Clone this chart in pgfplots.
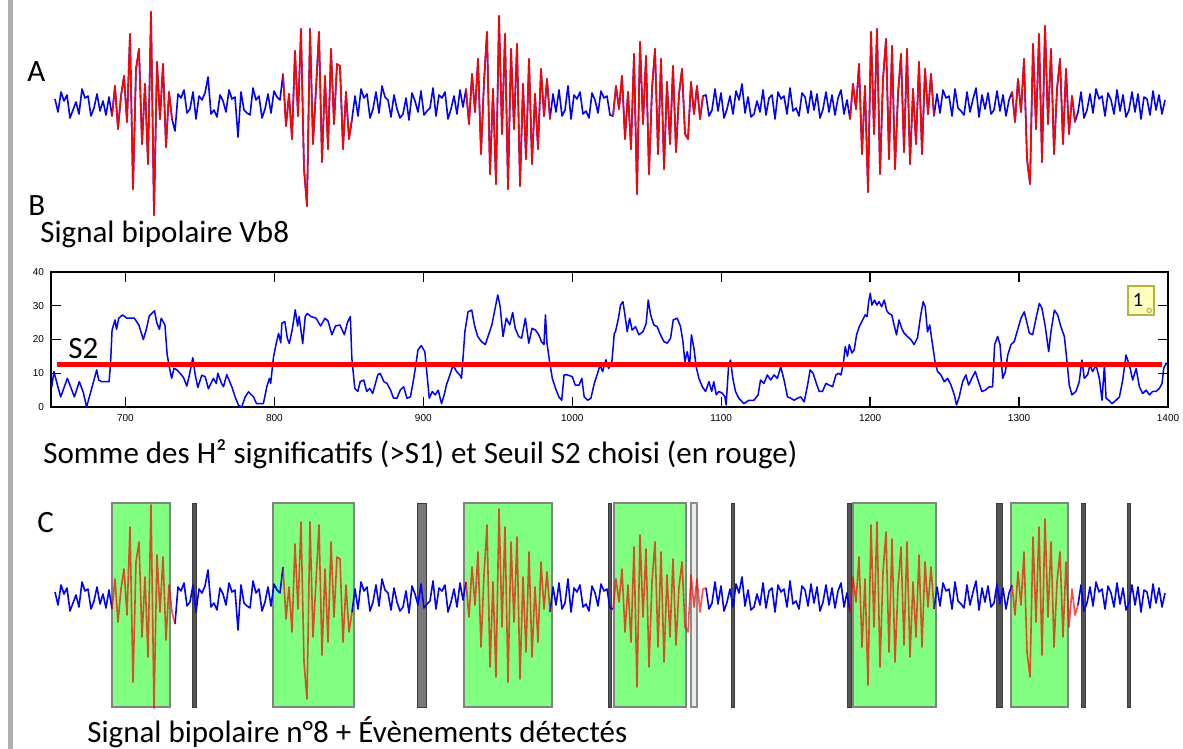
\documentclass[border=0pt]{standalone}
\usepackage{pgfplots}
\pgfplotsset{compat=1.18}
\usepackage{pgfplotstable}
\usepackage{fontspec}
\setmainfont{Carlito}
\setsansfont{Liberation Sans}

\definecolor{sigblue}{RGB}{0,0,255}
\definecolor{sigred}{RGB}{255,0,0}
\definecolor{boxgreen}{RGB}{128,255,128}
\definecolor{boxedge}{RGB}{130,130,130}
\definecolor{bardark}{RGB}{85,85,85}
\definecolor{bardarkedge}{RGB}{60,60,60}
\definecolor{barmid}{RGB}{120,120,120}
\definecolor{barlight}{RGB}{235,235,235}
\definecolor{barlightedge}{RGB}{140,140,140}
\definecolor{leftgray}{RGB}{175,175,175}
\definecolor{tagfill}{RGB}{255,255,190}
\definecolor{tagedge}{RGB}{180,180,60}

% signal samples (one every 3 px, starting at x = 55)
\pgfplotstableread[row sep=\\]{
y\\
5\\ -8\\ 12\\ 3\\ 9\\ -14\\ -6\\ 2\\ -10\\ 15\\ 6\\ 8\\ -12\\ -4\\ 10\\ -7\\ 3\\ -11\\ 7\\
-12\\ 18\\ -25\\ 8\\ 28\\ -18\\ 70\\ -85\\ 35\\ 55\\ -40\\ 20\\ -60\\ 92\\ -111\\ 42\\ -15\\ 40\\ -43\\ 12\\ -15\\
-27\\ 10\\ 6\\ 14\\ -9\\ -5\\ 12\\ -15\\ 8\\ 4\\ 11\\ 27\\ -10\\ -6\\ -13\\ 9\\ 3\\ -8\\ 14\\ 5\\ 7\\ -33\\ 12\\ -6\\ -9\\ -11\\ 16\\ 4\\ 8\\ -14\\ -5\\ 10\\ -9\\ 13\\ 7\\ 4\\
30\\ -22\\ 10\\ -35\\ 53\\ -12\\ 75\\ -65\\ -102\\ 75\\ -40\\ 15\\ 72\\ -58\\ 28\\ -45\\ 55\\ -20\\ 40\\ 38\\ -45\\ 12\\ -35\\ -15\\
8\\ -12\\ 15\\ 6\\ 10\\ -14\\ -5\\ 12\\ -9\\ 18\\ 7\\ 4\\ -13\\ 9\\ -5\\ -14\\ -10\\ 6\\ -16\\ 11\\ 3\\ -8\\ 13\\ -11\\ -7\\ -4\\ 16\\ -12\\ 9\\ 6\\ 12\\ -15\\ -5\\ 8\\ -10\\ 14\\ -3\\
15\\ -20\\ 30\\ -8\\ 45\\ -50\\ 22\\ 72\\ -70\\ 15\\ -80\\ 88\\ -30\\ 70\\ -85\\ 55\\ -25\\ 60\\ -82\\ 20\\ -55\\ 45\\ -60\\ 10\\ -45\\ 35\\ -12\\ 25\\ -15\\
10\\ -8\\ 14\\ -12\\ -6\\ 18\\ -15\\ 9\\ 5\\ 12\\ -10\\ -7\\ -14\\ 11\\ 4\\ -9\\ 13\\ 6\\ 8\\ -11\\
-12\\ 18\\ -5\\ 28\\ -35\\ 12\\ -45\\ 50\\ -90\\ 62\\ -20\\ 48\\ -70\\ 15\\ 55\\ -50\\ 45\\ -65\\ 22\\ -40\\ 38\\ -48\\ 10\\ 35\\ -30\\ -35\\ 22\\ -10\\ 18\\ -15\\ 8\\
9\\ -12\\ -6\\ 15\\ -7\\ 11\\ -14\\ -5\\ 8\\ -10\\ 13\\ 4\\ 20\\ -9\\ 7\\ -13\\ -10\\ 3\\ -8\\ 14\\ -11\\ 6\\ 9\\ -15\\ 12\\ 5\\ 8\\ -10\\ 16\\ -7\\ -4\\ -12\\ 11\\ 7\\ -9\\ 13\\ -6\\ 10\\ -14\\ -5\\ 12\\ -8\\ 9\\ -11\\ 6\\ 14\\ -10\\ 4\\
-15\\ 20\\ -5\\ 40\\ -50\\ 18\\ -88\\ 72\\ -30\\ 75\\ -70\\ 25\\ 65\\ -55\\ 58\\ -65\\ 10\\ 50\\ -48\\ 55\\ -60\\ 15\\ -40\\ 42\\ -50\\ 35\\ -10\\ 30\\ -12\\
10\\ -9\\ 14\\ 6\\ 8\\ -12\\ 15\\ -4\\ -7\\ -11\\ 12\\ -8\\ 5\\ 16\\ -13\\ 9\\ -5\\ 11\\ -10\\ -6\\ 13\\ -7\\ 9\\ -12\\ 4\\
12\\ -18\\ 25\\ -8\\ 45\\ -55\\ -80\\ 60\\ -25\\ 70\\ -58\\ 78\\ -20\\ 55\\ -50\\ 15\\ 45\\ -40\\ 35\\ -30\\ 8\\ -18\\
-8\\ 12\\ -14\\ -6\\ 10\\ -9\\ 15\\ 5\\ 8\\ -12\\ 11\\ 4\\ -10\\ 14\\ -7\\ 9\\ -13\\ -6\\ 12\\ -8\\ 10\\ -15\\ 7\\ 5\\ -11\\ 13\\ -6\\ 9\\ -10\\ 4\\
}\sig

\pgfplotsset{
  sigline/.style={line width=0.8pt, line join=round},
  redseg/.style={sigred, sigline, restrict x to domain=#1},
  bluseg/.style={sigblue, sigline, restrict x to domain=#1},
  evbox/.style={fill=boxgreen, draw=boxedge, line width=0.6pt},
  bardk/.style={fill=bardark, draw=bardarkedge, line width=0.5pt},
}

\begin{document}
\begin{tikzpicture}[x=1pt,y=1pt]
\fill[leftgray] (4,0) rectangle (6.5,-374.5);

% ---------------- Panel A
\begin{axis}[at={(0,0)}, anchor=north west, scale only axis,
  width=591.5pt, height=115pt, xmin=0, xmax=1183, ymin=-126, ymax=104,
  hide axis, clip=false]
\addplot[sigblue, sigline] table[x expr=\coordindex*3+55, y=y] {\sig};
\addplot[redseg={111.5:172.5}] table[x expr=\coordindex*3+55, y=y] {\sig};
\addplot[redseg={282.5:352.5}] table[x expr=\coordindex*3+55, y=y] {\sig};
\addplot[redseg={465.5:550.5}] table[x expr=\coordindex*3+55, y=y] {\sig};
\addplot[redseg={612.5:703.5}] table[x expr=\coordindex*3+55, y=y] {\sig};
\addplot[redseg={849.5:934.5}] table[x expr=\coordindex*3+55, y=y] {\sig};
\addplot[redseg={1011.5:1075.5}] table[x expr=\coordindex*3+55, y=y] {\sig};
\end{axis}

% ---------------- Panel B
\begin{axis}[at={(25.5pt,-136pt)}, anchor=north west, scale only axis,
  width=558.5pt, height=67.5pt, xmin=650, xmax=1400, ymin=0, ymax=40,
  xtick={700,800,...,1400}, ytick={0,10,20,30,40},
  tick align=inside, tick pos=both, ticklabel pos=left,
  major tick length=5pt,
  every tick/.style={black, line width=0.7pt},
  axis line style={line width=0.7pt},
  tick label style={font=\fontsize{5}{5}\sffamily},
  /pgf/number format/assume math mode=true,
  /pgf/number format/set thousands separator={},
  clip=false]
\addplot[sigblue, line width=0.75pt, line join=round] coordinates {
(650.5,6)(652,10.5)(654,7)(656.5,3)(661,8.5)(665.7,3)(669,7.5)(671.7,4.3)(673.9,0)(677,5)(680.7,11)(682,8)(684,7.5)(689,7.5)(690,13)(691,22.8)(693,25.8)(694,23)(695.5,26.3)(698,27.3)(701,26.3)(706,26.3)(709,24.3)(712,20)(714,23)(716,27)(719.5,28.5)(721,25)(722.8,23)(724,26.3)(726.5,24.3)(728,15.5)(729.6,11.5)(731,8.5)(732.6,11.5)(734.5,11)(736.7,10)(739,8.7)(741.2,6.2)(743,9.6)(745.2,14.6)(746.8,9.6)(748.6,5.8)(751.2,9.4)(753.5,9)(755.7,5.4)(759,8.5)(761,7)(762,10)(764.5,7)(765.8,6)(768,9.6)(771.4,6)(773.6,3)(775.9,0.5)(778,0)(780.4,3)(782.6,4.5)(786,3)(788,1)(792.6,1)(794.9,6)(796.7,8.5)(797.5,7)(799.4,14.8)(801.2,18.8)(802.8,21.8)(804.3,19)(805,24.8)(807,25.3)(808.7,20.3)(810,18.8)(812,23)(814,28.8)(815.6,24)(816.6,26.8)(819,18.8)(820.7,26.8)(822,27.7)(824.6,26.8)(828,26.3)(831,24)(834,26.3)(836,25.5)(838.6,21.4)(841,24)(844,24.3)(847,21.4)(849,25)(851,26.8)(852,14.4)(854,5.5)(856,4.6)(857.6,7.5)(860,8)(862,4.6)(864,5.5)(866,4)(869.4,9.5)(871,10)(873.5,7.5)(875.6,7)(878,5)(880,2.6)(882.3,2.6)(884.5,5)(886.8,6)(889,2.6)(891.3,3)(893,7)(894.6,11.4)(896.4,16.9)(898.6,18.2)(901,16.4)(902.5,9.5)(904,2.6)(906,4.6)(908,3.6)(910,5)(912.2,1)(914,3.6)(915.5,6.5)(917.8,9.5)(920,12.4)(922.3,10.5)(924.5,9.5)(925.6,8.5)(926.8,15.4)(927.9,22.3)(930,28.2)(932.5,28.7)(934.3,24.3)(936.5,20.9)(939,19.4)(941.6,18.5)(943.8,21.4)(946,24.3)(948.4,29.7)(950,33.2)(951.6,29.7)(953.5,20.9)(955.7,26.3)(958,24.3)(960,28)(961.7,23.3)(964,20.9)(966,20.4)(968.5,26.3)(970.8,18.9)(973,23.3)(975.3,22.8)(977.5,21.4)(979.3,19.4)(981,18.5)(982,27.3)(983,19)(984.8,13.4)(986.6,8.5)(988.8,5.5)(991,3)(992.9,2)(994.5,9.5)(996.7,9.5)(1000,9)(1002,6.5)(1004.6,6.5)(1006.4,8.5)(1008,3)(1010.3,2)(1012.5,2.6)(1014.8,7)(1017,10)(1018.6,12.4)(1020.4,10.5)(1022.6,14)(1024.4,11.4)(1026.6,13.4)(1028.2,21.8)(1029,22.3)(1031,26.3)(1032.4,30.2)(1034,31.2)(1035.3,27.5)(1036.9,22.3)(1038.5,26.3)(1040.2,22.8)(1042.5,23.8)(1044.7,21.4)(1047.4,22.3)(1049.6,24.7)(1051,31.7)(1052.6,27.3)(1054.8,24.3)(1057,23.8)(1059.2,21.4)(1061.5,19.4)(1063.8,18.9)(1066,20.4)(1067.8,25.8)(1070.5,26.3)(1072.7,23.8)(1074.3,19.4)(1075.6,13.4)(1077.2,16.4)(1078.8,12.4)(1080,21.4)(1081.7,17.4)(1083.2,11.9)(1085,8.5)(1087.3,6)(1089.5,4.6)(1091.8,7.5)(1093.6,4.6)(1095,7.5)(1096.7,3.6)(1098.4,4.6)(1100.7,4.1)(1102.5,3)(1103.3,0.6)(1105,12.4)(1106.3,13.9)(1107.8,8.5)(1109.6,4.6)(1111.8,2.6)(1115.2,1)(1118.6,2)(1121.9,2)(1124.8,3.6)(1126.4,8)(1128.7,7)(1131,9.5)(1133.2,8)(1135.4,9.5)(1137.7,8.5)(1140,11.9)(1142.2,8)(1144.5,3)(1146.7,2.6)(1149,2)(1151.2,2.6)(1153.4,3)(1155.7,1.5)(1158,6.5)(1159.7,11)(1161.7,10)(1163.5,7.5)(1165.8,4.6)(1168,4.6)(1170.3,7)(1172.5,6.5)(1174.8,6)(1177,9.5)(1178.8,10)(1180.4,9.5)(1182,13)(1183.3,17.9)(1184.8,15)(1186,18.5)(1187.8,16)(1189.3,16.9)(1190.9,21.4)(1192.7,23.8)(1195,25.8)(1196.7,27.3)(1198,26.8)(1199,31.2)(1200.1,33.7)(1201.2,30.2)(1203,31.7)(1204.5,30.2)(1206,31.2)(1207.7,29.7)(1209.5,31.7)(1211,28.7)(1212.3,27.8)(1214.5,27.3)(1216.1,24.3)(1217.7,21.4)(1219.4,25.8)(1221.2,23.3)(1222.8,21.9)(1225,20.9)(1227.3,20)(1229.5,18.5)(1231.8,20.5)(1234,27.3)(1235.6,31.2)(1237,29.7)(1238.5,22.3)(1240,24.3)(1241.9,18.5)(1243.7,13)(1245.3,10.5)(1247.5,9.5)(1249.8,7.5)(1252,8.5)(1254.3,6.5)(1256.5,3.6)(1258,0.6)(1259.8,3)(1262.1,7.5)(1264.3,9.5)(1266.1,6.5)(1268.3,8.5)(1270.6,10.5)(1272.8,7.5)(1275,4.6)(1277.3,5)(1280,6)(1282.2,6)(1283.6,18.5)(1285.6,20.9)(1287.2,18.5)(1289,8.5)(1290.8,10.5)(1292.4,15.4)(1294.6,18.5)(1296.8,19.4)(1299,22.8)(1301.3,26.3)(1303.5,28.2)(1305.1,25.3)(1306.9,21.9)(1309.1,21.4)(1311.4,26.3)(1313.6,30.7)(1315.4,29.2)(1317.6,23.8)(1319.9,16.4)(1321.4,22.3)(1323.7,28.7)(1325.9,27.3)(1328.1,23.8)(1330.4,20.9)(1332.2,13.4)(1333.7,6.5)(1335.5,3.6)(1338.2,4.6)(1340.4,7.5)(1342.2,13.9)(1343.8,8.5)(1346,9.5)(1347.6,12.4)(1349.4,10.5)(1351.7,12.4)(1353.9,8.5)(1355.7,2)(1357.3,12.4)(1358.4,2.6)(1360.2,2)(1362.4,1)(1365.1,2)(1367.4,3)(1369.6,8)(1371.8,15.4)(1374.1,12.4)(1376.3,8)(1378.6,11.4)(1380.8,6)(1383,4)(1385.3,5)(1387.5,3.6)(1389.7,4.6)(1392,4.6)(1394.2,5.5)(1396,7)(1397.1,11.4)(1398.7,13)(1399.8,12.5)
};
\addplot[sigred, line width=2.5pt] coordinates {(654,12.5) (1396,12.5)};
\end{axis}

% ---------------- Panel C
\begin{axis}[at={(0,-240pt)}, anchor=north west, scale only axis,
  width=591.5pt, height=134.5pt, xmin=0, xmax=1183, ymin=-152, ymax=117,
  hide axis, clip=false]
% event boxes
\addplot[evbox] coordinates {(112,-110) (112,94) (170,94) (170,-110)} -- cycle;
\addplot[evbox] coordinates {(273,-110) (273,94) (354,94) (354,-110)} -- cycle;
\addplot[evbox] coordinates {(464,-110) (464,94) (552,94) (552,-110)} -- cycle;
\addplot[evbox] coordinates {(614,-110) (614,94) (686,94) (686,-110)} -- cycle;
\addplot[evbox] coordinates {(853,-110) (853,94) (936,94) (936,-110)} -- cycle;
\addplot[evbox] coordinates {(1011,-110) (1011,94) (1068,94) (1068,-110)} -- cycle;
% other detected events
\addplot[bardk] coordinates {(192,-110) (192,94) (196,94) (196,-110)} -- cycle;
\addplot[fill=barmid, draw=bardarkedge, line width=0.5pt] coordinates {(417,-110) (417,94) (426,94) (426,-110)} -- cycle;
\addplot[bardk] coordinates {(608,-110) (608,94) (611,94) (611,-110)} -- cycle;
\addplot[fill=barlight, draw=barlightedge, line width=0.6pt] coordinates {(691,-110) (691,94) (697,94) (697,-110)} -- cycle;
\addplot[bardk] coordinates {(731,-110) (731,94) (734,94) (734,-110)} -- cycle;
\addplot[bardk] coordinates {(847,-110) (847,94) (851,94) (851,-110)} -- cycle;
\addplot[bardk] coordinates {(996,-110) (996,94) (1002,94) (1002,-110)} -- cycle;
\addplot[bardk] coordinates {(1081,-110) (1081,94) (1085,94) (1085,-110)} -- cycle;
\addplot[bardk] coordinates {(1127,-110) (1127,94) (1130,94) (1130,-110)} -- cycle;
% signal
\addplot[bluseg={0:112.5}] table[x expr=\coordindex*3+55, y=y] {\sig};
\addplot[bluseg={174.5:283.5}] table[x expr=\coordindex*3+55, y=y] {\sig};
\addplot[bluseg={351.5:466.5}] table[x expr=\coordindex*3+55, y=y] {\sig};
\addplot[bluseg={549.5:613.5}] table[x expr=\coordindex*3+55, y=y] {\sig};
\addplot[bluseg={705.5:850.5}] table[x expr=\coordindex*3+55, y=y] {\sig};
\addplot[bluseg={933.5:1012.5}] table[x expr=\coordindex*3+55, y=y] {\sig};
\addplot[bluseg={1077.5:1200}] table[x expr=\coordindex*3+55, y=y] {\sig};
\addplot[redseg={111.5:175.5}, opacity=0.7] table[x expr=\coordindex*3+55, y=y] {\sig};
\addplot[redseg={282.5:352.5}, opacity=0.7] table[x expr=\coordindex*3+55, y=y] {\sig};
\addplot[redseg={465.5:550.5}, opacity=0.7] table[x expr=\coordindex*3+55, y=y] {\sig};
\addplot[redseg={612.5:706.5}, opacity=0.7] table[x expr=\coordindex*3+55, y=y] {\sig};
\addplot[redseg={849.5:934.5}, opacity=0.7] table[x expr=\coordindex*3+55, y=y] {\sig};
\addplot[redseg={1011.5:1078.5}, opacity=0.7] table[x expr=\coordindex*3+55, y=y] {\sig};
\end{axis}

% ---------------- texts
\node[anchor=base west, inner sep=0pt, font=\fontsize{15.5}{18}\selectfont] at (13.5,-41) {A};
\node[anchor=base west, inner sep=0pt, font=\fontsize{15.5}{18}\selectfont] at (14,-107.5) {B};
\node[anchor=base west, inner sep=0pt, font=\fontsize{15.5}{18}\selectfont] at (20,-121) {Signal bipolaire Vb8};
\node[anchor=base west, inner sep=0pt, font=\fontsize{15.5}{18}\selectfont] at (34,-179) {S2};
\node[anchor=base west, inner sep=0pt, font=\fontsize{15.5}{18}\selectfont] at (21.5,-231.5) {Somme des H² significatifs (>S1) et Seuil S2 choisi (en rouge)};
\node[anchor=base west, inner sep=0pt, font=\fontsize{15.5}{18}\selectfont] at (18.5,-266) {C};
\node[anchor=base west, inner sep=0pt, font=\fontsize{15.5}{18}\selectfont] at (43.5,-371) {Signal bipolaire n°8 + Évènements détectés};

% tag "1"
\node[draw=tagedge, fill=tagfill, line width=1pt, minimum width=13pt, minimum height=14.5pt, inner sep=0pt, font=\fontsize{10}{10}\selectfont] at (570.5,-150) {\hspace*{-3pt}1};
\draw[tagedge, line width=0.5pt, fill=white] (574.6,-155.2) circle (1.1pt);

\pgfresetboundingbox
\useasboundingbox (0,0) rectangle (591.5,-374.5);
\end{tikzpicture}
\end{document}
